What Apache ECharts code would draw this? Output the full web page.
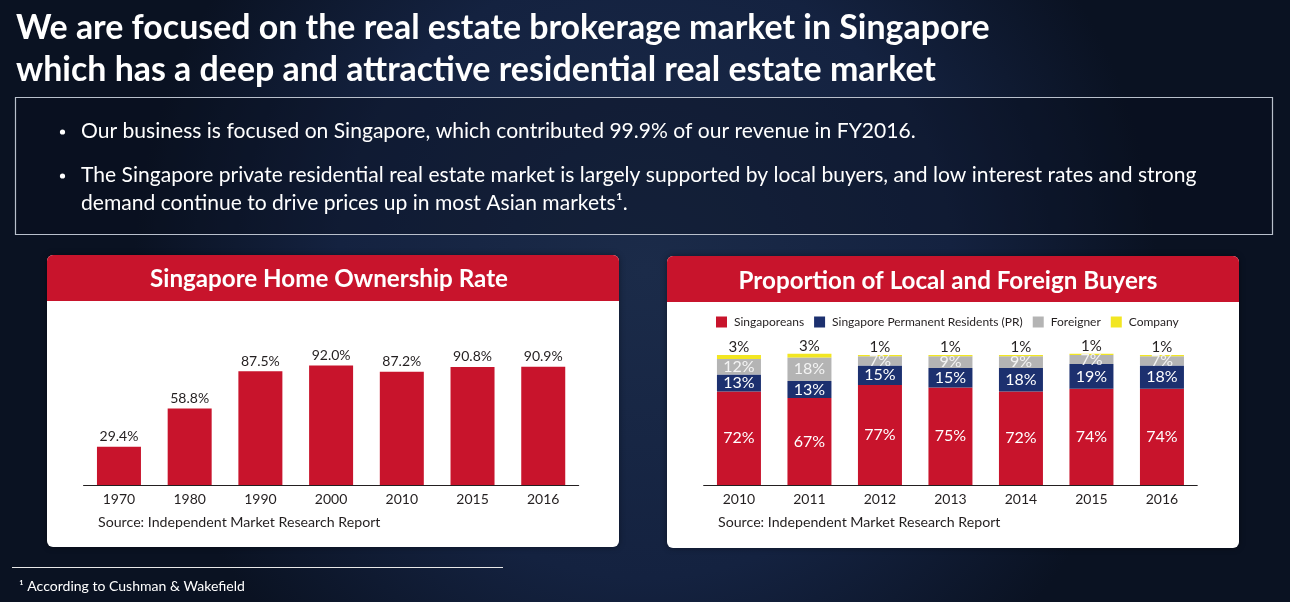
<!DOCTYPE html>
<html><head><meta charset="utf-8">
<script src="https://cdn.jsdelivr.net/npm/echarts@6/dist/echarts.min.js"></script>
<style>html,body{margin:0;padding:0;background:#0e1a2f;overflow:hidden}#c{width:1290px;height:602px}</style>
</head><body><div id="c"></div>
<script>
// ---- data ----
const titleLines = ['We are focused on the real estate brokerage market in Singapore',
                    'which has a deep and attractive residential real estate market'];
const bulletLines = ['Our business is focused on Singapore, which contributed 99.9% of our revenue in FY2016.',
                     'The Singapore private residential real estate market is largely supported by local buyers, and low interest rates and strong',
                     'demand continue to drive prices up in most Asian markets\u00B9.'];
const leftTitle = 'Singapore Home Ownership Rate';
const rightTitle = 'Proportion of Local and Foreign Buyers';
const sourceText = 'Source: Independent Market Research Report';
const footnoteText = '\u00B9 According to Cushman & Wakefield';
const ownYears = ['1970','1980','1990','2000','2010','2015','2016'];
const ownRate = [29.4, 58.8, 87.5, 92.0, 87.2, 90.8, 90.9];
const buyYears = ['2010','2011','2012','2013','2014','2015','2016'];
const buyerNames = ['Singaporeans','Singapore Permanent Residents (PR)','Foreigner','Company'];
const singaporeans = [72, 67, 77, 75, 72, 74, 74];
const permanentResidents = [13, 13, 15, 15, 18, 19, 18];
const foreigners = [12, 18, 7, 9, 9, 7, 7];
const companies = [3, 3, 1, 1, 1, 1, 1];

// ---- helpers ----
const ctx = document.createElement('canvas').getContext('2d');
function fit(text, weight, family, target){
  ctx.font = weight + ' 100px ' + family;
  return 100 * target / ctx.measureText(text).width;
}
const FAM = 'Lato, "Open Sans", sans-serif';
const RED = '#c8142c', NAVY = '#1c306f', GRAY = '#b4b4b4', YEL = '#f2e622', INK = '#231f20';

const g = [];
// text box
g.push({type:'rect', shape:{x:15.5,y:97.5,width:1257,height:137}, style:{fill:'rgba(8,14,28,0.35)', stroke:'#b9c0cc', lineWidth:1.2}});
// titles
const tS1 = fit(titleLines[0], 'bold', FAM, 974);
g.push({type:'text', style:{text:titleLines[0], x:16, y:28, fill:'#fff', font:'bold '+tS1.toFixed(2)+'px '+FAM, textAlign:'left', textVerticalAlign:'middle'}});
g.push({type:'text', style:{text:titleLines[1], x:16, y:70, fill:'#fff', font:'bold '+tS1.toFixed(2)+'px '+FAM, textAlign:'left', textVerticalAlign:'middle'}});
// bullets
const bS = fit(bulletLines[0], 'normal', FAM, 835);
const bY = [131, 175, 203];
[0,1].forEach(i=>g.push({type:'circle', shape:{cx:62.5, cy:bY[i]+1, r:2.6}, style:{fill:'#fff'}}));
bulletLines.forEach((t,i)=>g.push({type:'text', style:{text:t, x:81, y:bY[i], fill:'#fff', font:bS.toFixed(2)+'px '+FAM, textAlign:'left', textVerticalAlign:'middle'}}));
// panels
function panel(x, y, title, tw, tcx, tcy){
  g.push({type:'rect', shape:{x:x, y:y, width:572, height:292, r:6}, style:{fill:'#fff', shadowBlur:6, shadowColor:'rgba(0,0,0,0.4)'}});
  g.push({type:'rect', shape:{x:x, y:y, width:572, height:46, r:[6,6,0,0]}, style:{fill:RED}});
  const s = fit(title, 'bold', FAM, tw);
  g.push({type:'text', style:{text:title, x:tcx, y:tcy, fill:'#fff', font:'bold '+s.toFixed(2)+'px '+FAM, textAlign:'center', textVerticalAlign:'middle'}});
}
panel(47, 255, leftTitle, 358, 329, 279);
panel(667, 256, rightTitle, 419, 948, 281);
g.push({type:'text', style:{text:sourceText, x:98, y:522, fill:INK, font:'14.2px '+FAM, textAlign:'left', textVerticalAlign:'middle'}});
g.push({type:'text', style:{text:sourceText, x:718, y:522, fill:INK, font:'14.2px '+FAM, textAlign:'left', textVerticalAlign:'middle'}});
// footnote
g.push({type:'line', shape:{x1:12, y1:567.5, x2:503, y2:567.5}, style:{stroke:'#e8e8e8', lineWidth:1}});
const fS = fit(footnoteText, 'normal', FAM, 226);
g.push({type:'text', style:{text:footnoteText, x:19, y:586, fill:'#fff', font:fS.toFixed(2)+'px '+FAM, textAlign:'left', textVerticalAlign:'middle'}});

const axisX = (gi, data) => ({type:'category', gridIndex:gi, data:data,
  axisLine:{lineStyle:{color:INK, width:1.2}}, axisTick:{show:false},
  axisLabel:{color:INK, fontSize:14, fontFamily:FAM, margin:7}});
const axisY = gi => ({type:'value', gridIndex:gi, min:0, max:110, show:false, splitLine:{show:false}});
const pct = p => p.value + '%';
const inLbl = color => ({show:true, position:'inside', formatter:pct, color:color, fontSize:16, fontFamily:FAM});

const option = {
  backgroundColor:{type:'radial', x:0.5, y:0.45, r:0.85, colorStops:[{offset:0,color:'#1b2b49'},{offset:0.6,color:'#142240'},{offset:1,color:'#0a1222'}]},
  animation:false,
  graphic:{elements:g},
  legend:{data:buyerNames, left:716, top:316, padding:0, icon:'rect', itemWidth:11, itemHeight:11, itemGap:10,
    textStyle:{color:INK, fontSize:12, fontFamily:FAM, padding:[0,0,0,2]}},
  grid:[{left:83.6, width:495, top:342, height:143}, {left:703.7, width:493.5, top:342, height:143}],
  xAxis:[axisX(0, ownYears), axisX(1, buyYears)],
  yAxis:[axisY(0), axisY(1)],
  series:[
    {type:'bar', name:'Home Ownership Rate', xAxisIndex:0, yAxisIndex:0, data:ownRate, barWidth:44, itemStyle:{color:RED},
      label:{show:true, position:'top', distance:3, formatter:p=>p.value.toFixed(1)+'%', color:INK, fontSize:14, fontFamily:FAM}},
    {type:'bar', name:buyerNames[0], xAxisIndex:1, yAxisIndex:1, stack:'b', data:singaporeans, barWidth:44, itemStyle:{color:RED}, label:inLbl('#fff')},
    {type:'bar', name:buyerNames[1], xAxisIndex:1, yAxisIndex:1, stack:'b', data:permanentResidents, barWidth:44, itemStyle:{color:NAVY}, label:inLbl('#fff')},
    {type:'bar', name:buyerNames[2], xAxisIndex:1, yAxisIndex:1, stack:'b', data:foreigners, barWidth:44, itemStyle:{color:GRAY}, label:inLbl('#f4f4f4')},
    {type:'bar', name:buyerNames[3], xAxisIndex:1, yAxisIndex:1, stack:'b', data:companies, barWidth:44, itemStyle:{color:YEL},
      label:{show:true, position:'top', distance:0, formatter:pct, color:INK, fontSize:15, fontFamily:FAM}}
  ]
};
const chart = echarts.init(document.getElementById('c'));
chart.setOption(option);
</script></body></html>
